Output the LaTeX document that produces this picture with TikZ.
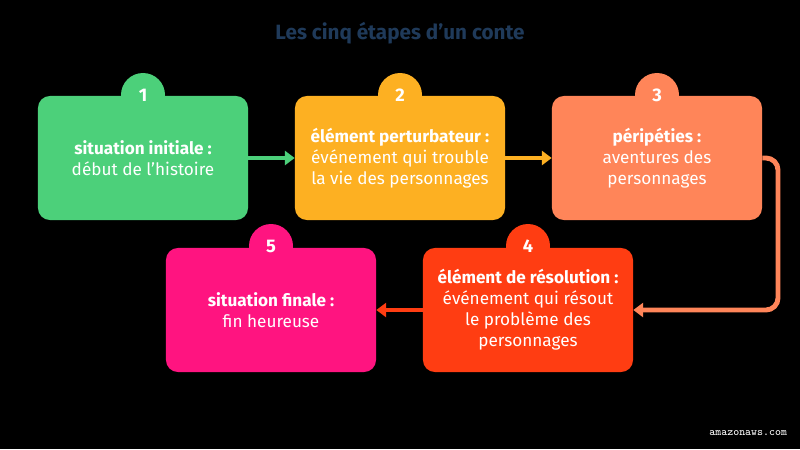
\documentclass[tikz,border=0pt]{standalone}
\usepackage{fontspec}
\setmainfont{Fira Sans}
\usetikzlibrary{arrows.meta,positioning,calc}

\definecolor{vert}{HTML}{4CD07A}
\definecolor{jaune}{HTML}{FDB022}
\definecolor{saumon}{HTML}{FF8559}
\definecolor{rouge}{HTML}{FF3D12}
\definecolor{rose}{HTML}{FF1480}
\definecolor{titre}{HTML}{1F3A5A}

\begin{document}
\begin{tikzpicture}[x=0.025cm,y=-0.025cm,
        etape/.style={rectangle, rounded corners=0.3cm, minimum width=5.25cm, minimum height=3.1cm,
        text=white, align=center, font=\fontsize{12.2}{15}\selectfont},
        num/.style={circle, minimum size=1.1cm, inner sep=0pt, text=white, font=\bfseries\fontsize{13}{15}\selectfont},
        lien/.style={line width=3.5pt, -{Triangle[length=7pt,width=10pt]}}, >=Stealth]

        \fill[black] (0,0) rectangle (800,449);
        \node[text=titre, font=\bfseries\fontsize{14.7}{17}\selectfont] (titre) at (400,33) {Les cinq étapes d’un conte};

        \node[etape, fill=vert] (e1) at (143,158) {\textbf{situation initiale :}\\début de l’histoire};
        \node[etape, fill=jaune] (e2) at (400,158) {\textbf{élément perturbateur :}\\événement qui trouble\\la vie des personnages};
        \node[etape, fill=saumon] (e3) at (657,158) {\textbf{péripéties :}\\aventures des\\personnages};
        \node[etape, fill=rouge] (e4) at (528,310) {\textbf{élément de résolution :}\\événement qui résout\\le problème des\\personnages};
        \node[etape, fill=rose] (e5) at (271,310) {\textbf{situation finale :}\\fin heureuse};

        \node[num, fill=vert] (n1) at (143,95) {1};
        \node[num, fill=jaune] (n2) at (400,95) {2};
        \node[num, fill=saumon] (n3) at (657,95) {3};
        \node[num, fill=rouge] (n4) at (528,246) {4};
        \node[num, fill=rose] (n5) at (271,246) {5};

        \coordinate (h3) at (778,158);
        \coordinate (b3) at (778,310);

        \draw[lien, vert] (e1) -- (e2);
        \draw[lien, jaune] (e2) -- (e3);
        \draw[lien, saumon, rounded corners=0.3cm] (e3.east) -- (h3) -- (b3) -- (e4.east);
        \draw[lien, rouge] (e4) -- (e5);

        \node[text=white, font=\ttfamily\fontsize{8}{10}\selectfont, anchor=east] (src) at (792,433) {amazonaws.com};
    \end{tikzpicture}
\end{document}
